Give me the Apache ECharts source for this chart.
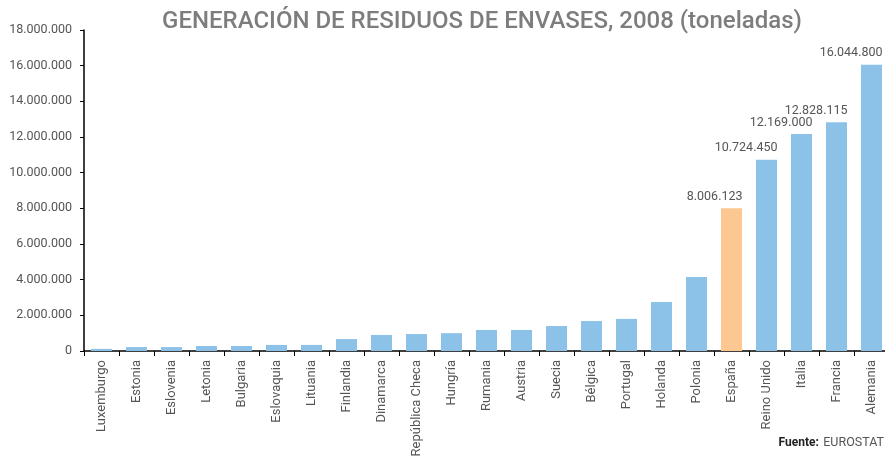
<!DOCTYPE html>
<html>
<head>
<meta charset="utf-8">
<script src="https://cdn.jsdelivr.net/npm/echarts@6/dist/echarts.min.js"></script>
<style>
html,body{margin:0;padding:0;background:#fff}
#chart{width:885px;height:456px}
</style>
</head>
<body>
<div id="chart"></div>
<script>
let paises = ['Luxemburgo','Estonia','Eslovenia','Letonia','Bulgaria','Eslovaquia','Lituania','Finlandia','Dinamarca','República Checa','Hungría','Rumania','Austria','Suecia','Bélgica','Portugal','Holanda','Polonia','España','Reino Unido','Italia','Francia','Alemania']
let toneladas = [120000,220000,220000,280000,280000,340000,340000,670000,900000,950000,1000000,1180000,1180000,1400000,1680000,1800000,2750000,4150000,8006123,10724450,12169000,12828115,16044800]
let conEtiqueta = ['España','Reino Unido','Italia','Francia','Alemania']
let destacado = 'España'

//formato con puntos de miles
function fmt(v) {
	return String(Math.round(v)).replace(/\B(?=(\d{3})+(?!\d))/g,'.')
}

let barData = []
for(let i = 0;i<paises.length;i++) {
	barData.push({
		value:toneladas[i],
		itemStyle:{color: paises[i]==destacado ? '#fcc791' : '#8dc2e8'},
		label:{show: conEtiqueta.indexOf(paises[i])>=0}
	})
}

let chart = echarts.init(document.getElementById('chart'))
let option = {
	animation:false,
	textStyle:{fontFamily:'Roboto'},
	title:[{
		text:'GENERACIÓN DE RESIDUOS DE ENVASES, 2008 (toneladas)',
		left:477,
		top:5,
		textAlign:'center',
		textStyle:{color:'#7d7d7d',fontSize:24,fontWeight:500,fontFamily:'Roboto'}
	},{
		text:'{b|Fuente:} {n|EUROSTAT}',
		right:-4,
		bottom:-1,
		textStyle:{
			fontWeight:'normal',
			rich:{
				b:{fontWeight:'bold',color:'#222',fontSize:12,fontFamily:'Roboto'},
				n:{fontWeight:'normal',color:'#555',fontSize:12.5,fontFamily:'Roboto'}
			}
		}
	}],
	grid:{left:84,top:30,width:805,height:321,outerBoundsMode:'none',containLabel:false},
	xAxis:{
		type:'category',
		data:paises,
		axisLine:{lineStyle:{color:'#000',width:1.5}},
		axisTick:{show:true,length:5,lineStyle:{color:'#000'}},
		axisLabel:{rotate:90,interval:0,color:'#555',fontSize:13,margin:9}
	},
	yAxis:{
		type:'value',
		min:0,
		max:18000000,
		interval:2000000,
		splitLine:{show:false},
		axisLine:{show:true,lineStyle:{color:'#000',width:1.5}},
		axisTick:{show:true,length:4,lineStyle:{color:'#000'}},
		axisLabel:{color:'#555',fontSize:12.5,margin:12,formatter:fmt}
	},
	series:[{
		type:'bar',
		data:barData,
		barWidth:21,
		label:{position:'top',align:'right',offset:[11,0],color:'#555',fontSize:12.5,distance:5,formatter:function(p){return fmt(p.value)}}
	}]
}
chart.setOption(option)
</script>
</body>
</html>
